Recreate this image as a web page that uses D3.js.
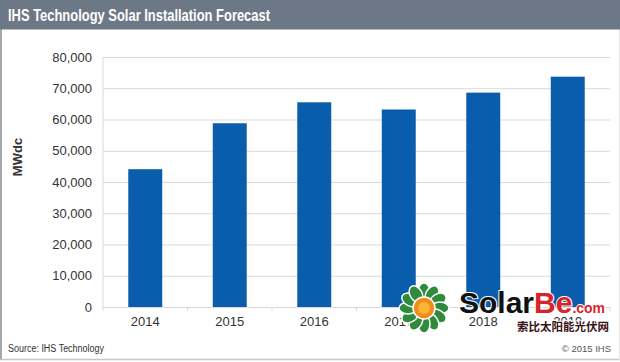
<!DOCTYPE html>
<html>
<head>
<meta charset="utf-8">
<script src="https://cdn.jsdelivr.net/npm/d3@7"></script>
<style>
  body { margin: 0; background: #fff; }
  svg { display: block; font-family: "Liberation Sans", Arial, sans-serif; }
</style>
</head>
<body>
<div id="wrapper"></div>
<script>
const years = ["2014", "2015", "2016", "2017", "2018", "2019"]
const mwdc = [44100, 58800, 65500, 63200, 68600, 73700]
const yTicks = [0, 10000, 20000, 30000, 40000, 50000, 60000, 70000, 80000]
const title = "IHS Technology Solar Installation Forecast"
const yLabel = "MWdc"
const source = "Source: IHS Technology"
const copyright = "\u00a9 2015 IHS"

function drawBarChart() {
  const dimensions = {
    width: 620,
    height: 362,
    margin: { top: 57, right: 10, bottom: 55, left: 103 },
  }
  dimensions.boundedWidth = dimensions.width - dimensions.margin.left - dimensions.margin.right
  dimensions.boundedHeight = dimensions.height - dimensions.margin.top - dimensions.margin.bottom

  const wrapper = d3.select("#wrapper")
    .append("svg")
    .attr("width", dimensions.width)
    .attr("height", dimensions.height)

  // frame + header
  wrapper.append("line")
    .attr("x1", 1).attr("x2", 1).attr("y1", 0).attr("y2", 360)
    .attr("stroke", "#a3a8ad").attr("stroke-width", 2)
  wrapper.append("line")
    .attr("x1", 0).attr("x2", 620).attr("y1", 359.5).attr("y2", 359.5)
    .attr("stroke", "#c4c6c8").attr("stroke-width", 1.5)
  wrapper.append("line")
    .attr("x1", 619.5).attr("x2", 619.5).attr("y1", 0).attr("y2", 360)
    .attr("stroke", "#e2e3e4").attr("stroke-width", 1)
  wrapper.append("rect")
    .attr("x", 0).attr("y", 0)
    .attr("width", dimensions.width).attr("height", 29.5)
    .attr("fill", "#6d7886")
  wrapper.append("text")
    .attr("x", 8).attr("y", 21)
    .attr("fill", "#fff")
    .attr("textLength", 262).attr("lengthAdjust", "spacingAndGlyphs")
    .style("font-size", "16.5px").style("font-weight", "bold")
    .text(title)

  const bounds = wrapper.append("g")
    .attr("transform", `translate(${dimensions.margin.left},${dimensions.margin.top})`)

  const yScale = d3.scaleLinear()
    .domain([0, 80000])
    .range([dimensions.boundedHeight, 0])

  const xScale = d3.scaleBand()
    .domain(years)
    .range([0, dimensions.boundedWidth])
    .paddingInner(0.598)
    .paddingOuter(0.299)

  // y axis with gridlines
  const yAxis = bounds.append("g")
    .call(d3.axisLeft(yScale)
      .tickValues(yTicks)
      .tickSize(-dimensions.boundedWidth)
      .tickPadding(11)
      .tickFormat(d3.format(",")))
  yAxis.select(".domain").remove()
  yAxis.selectAll(".tick line").attr("stroke", "#d9d9d9")
  yAxis.selectAll(".tick text")
    .attr("fill", "#333")
    .style("font-size", "13px")
    .style("font-family", "Liberation Sans, Arial, sans-serif")

  bounds.append("line")
    .attr("x1", 0).attr("x2", 0)
    .attr("y1", 0).attr("y2", dimensions.boundedHeight)
    .attr("stroke", "#d9d9d9")

  // bars
  bounds.selectAll(".bar")
    .data(years)
    .join("rect")
    .attr("class", "bar")
    .attr("x", d => xScale(d))
    .attr("width", xScale.bandwidth())
    .attr("y", (d, i) => yScale(mwdc[i]))
    .attr("height", (d, i) => dimensions.boundedHeight - yScale(mwdc[i]))
    .attr("fill", "#0a5dad")

  // x axis
  const xAxis = bounds.append("g")
    .attr("transform", `translate(0,${dimensions.boundedHeight})`)
    .call(d3.axisBottom(xScale).tickSize(0).tickPadding(10))
  xAxis.select(".domain").attr("stroke", "#d9d9d9")
  xAxis.selectAll(".tick text")
    .attr("fill", "#333")
    .style("font-size", "13px")
    .style("font-family", "Liberation Sans, Arial, sans-serif")

  const boundaries = d3.range(years.length + 1).map(i => i * xScale.step())
  bounds.selectAll(".cat-tick")
    .data(boundaries)
    .join("line")
    .attr("class", "cat-tick")
    .attr("x1", d => d).attr("x2", d => d)
    .attr("y1", dimensions.boundedHeight)
    .attr("y2", dimensions.boundedHeight + 4)
    .attr("stroke", "#d9d9d9")

  // y label
  wrapper.append("text")
    .attr("transform", `translate(22,157) rotate(-90)`)
    .attr("text-anchor", "middle")
    .attr("fill", "#333")
    .style("font-size", "13px").style("font-weight", "bold")
    .text(yLabel)

  // footer
  wrapper.append("text")
    .attr("x", 8).attr("y", 352)
    .attr("fill", "#333")
    .attr("textLength", 96).attr("lengthAdjust", "spacingAndGlyphs")
    .style("font-size", "10px")
    .text(source)
  wrapper.append("text")
    .attr("x", 611).attr("y", 352)
    .attr("text-anchor", "end")
    .attr("fill", "#555")
    .style("font-size", "9.5px")
    .text(copyright)

  // watermark logo
  const logo = wrapper.append("g").attr("transform", "translate(424,308)")
  d3.range(12).forEach(i => {
    logo.append("ellipse")
      .attr("cx", 0).attr("cy", -16)
      .attr("rx", 6).attr("ry", 9)
      .attr("transform", `rotate(${i * 30})`)
      .attr("fill", "#2f8a3c").attr("stroke", "#fff").attr("stroke-width", 1.5)
  })
  logo.append("circle").attr("r", 11).attr("fill", "#f28a1c").attr("stroke", "#fff").attr("stroke-width", 1.5)
  logo.append("circle").attr("r", 6).attr("fill", "#f7b733")

  const brand = wrapper.append("text")
    .attr("x", 459).attr("y", 313)
    .style("font-size", "30px").style("font-weight", "bold")
    .attr("stroke", "#fff").attr("stroke-width", 2).attr("paint-order", "stroke")
  brand.append("tspan").attr("fill", "#111").text("Solar")
  brand.append("tspan").attr("fill", "#d8232a").text("Be")
  brand.append("tspan").attr("fill", "#d8232a").style("font-size", "14px").text(".com")

  wrapper.append("text")
    .attr("x", 517).attr("y", 331)
    .attr("fill", "#3a1414")
    .attr("stroke", "#fff").attr("stroke-width", 2).attr("paint-order", "stroke")
    .style("font-size", "11.5px").style("font-weight", "bold")
    .style("font-family", "Noto Sans CJK SC, sans-serif")
    .text("索比太阳能光伏网")
}
drawBarChart()
</script>
</body>
</html>
